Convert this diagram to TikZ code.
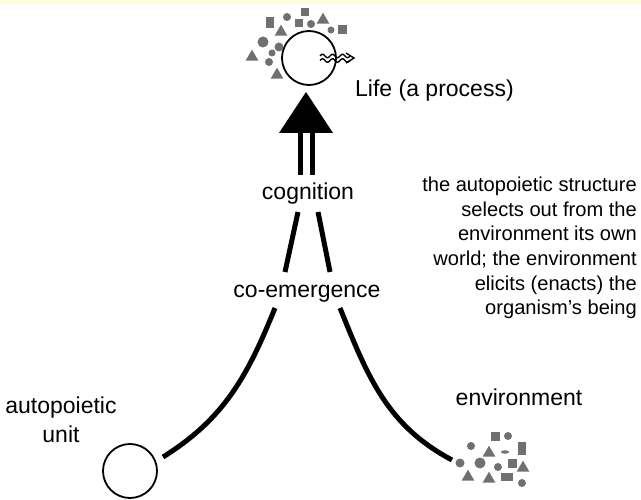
\documentclass[tikz,border=0pt]{standalone}
\usepackage{fontspec}
\setmainfont{Liberation Sans}
\usetikzlibrary{shapes.geometric}
\definecolor{shapegray}{RGB}{112,112,112}
\definecolor{edgeyellow}{RGB}{255,253,215}
\begin{document}
\begin{tikzpicture}[x=1pt,y=1pt,
  lbl/.style={inner sep=0pt,font=\fontsize{23}{27}\selectfont},
  para/.style={inner sep=0pt,align=right,font=\fontsize{20.1}{24.6}\selectfont},
  ring/.style={circle,draw,line width=1.8pt,minimum size=54pt,inner sep=0pt},
  thick line/.style={line width=5pt},
  sq/.style={fill=shapegray,minimum size=#1,inner sep=0pt},
  dot/.style={circle,fill=shapegray,minimum size=#1,inner sep=0pt},
  tri/.style={isosceles triangle,isosceles triangle apex angle=60,shape border rotate=90,fill=shapegray,minimum size=#1,inner sep=0pt}]
\useasboundingbox (0,0) rectangle (641,499);
\fill[white] (0,0) rectangle (641,499);
\fill[edgeyellow] (0,495) rectangle (641,499);
% Life
\node[ring] (life) at (309,441) {};
\node[lbl,anchor=base west] (lifetxt) at (355,402) {Life (a process)};
% squiggle arrow inside
\draw[line width=1.4pt,domain=0:30,samples=40] plot ({320+\x},{443+1.7*sin(\x*36)});
\draw[line width=1.4pt,domain=0:30,samples=40] plot ({320+\x},{438.5+1.7*sin(\x*36)});
\draw[line width=1.4pt] (346,446) -- (354,441) -- (346,436);
% cluster around life
\node[sq=8.5pt] (l1) at (305,487) {};
\node[dot=8pt] (l2) at (287,482) {};
\node[sq=8.5pt,minimum height=11pt] (l3) at (270,476) {};
\node[tri=11pt] (l4) at (281,467) {};
\node[sq=8.5pt] (l5) at (299,476) {};
\node[dot=8pt] (l6) at (311,475) {};
\node[tri=11pt] (l7) at (323,479) {};
\node[dot=7pt] (l8) at (331,469) {};
\node[sq=9pt] (l9) at (342,469) {};
\node[dot=11pt] (l10) at (263,457) {};
\node[dot=9pt] (l11) at (279,452) {};
\node[tri=11pt] (l12) at (252,442) {};
\node[dot=7pt] (l13) at (272,446) {};
\node[dot=8pt] (l14) at (269,437) {};
\node[tri=11pt] (l15) at (277,424) {};
% big arrow
\coordinate (apex) at (306,407);
\fill (279,366) -- (apex) -- (333,366) -- cycle;
\node[lbl,anchor=base] (cog) at (308,299) {cognition};
\draw[thick line] (300,367) -- (300,324);
\draw[thick line] (312,367) -- (312,324);
\node[lbl,anchor=base] (coem) at (307,201) {co-emergence};
\draw[thick line] (298,287) -- (285,227);
\draw[thick line] (318,287) -- (330,227);
% lower curves
\node[ring] (unit) at (130,28) {};
\node[lbl,align=center,anchor=base,font=\fontsize{23}{28}\selectfont] (unittxt) at (61,57) {autopoietic\\unit};
\coordinate (lstart) at (163,42);
\coordinate (ltop) at (275,191);
\coordinate (rtop) at (340,191);
\coordinate (rend) at (452,39);
\draw[thick line] (lstart) to[out=32,in=-112] (ltop);
\draw[thick line] (rend) to[out=152,in=-68] (rtop);
\node[lbl,anchor=base] (envtxt) at (519,94) {environment};
% environment cluster
\node[sq=9pt] (e1) at (495,63) {};
\node[dot=8pt] (e2) at (508,63) {};
\node[dot=8pt] (e3) at (471,53) {};
\node[tri=11pt] (e4) at (489,46) {};
\node[ellipse,fill=shapegray,minimum width=8pt,minimum height=3.5pt,inner sep=0pt] (e5) at (505,47) {};
\node[sq=8pt,minimum height=13pt] (e6) at (522,51) {};
\node[dot=9pt] (e7) at (460,36) {};
\node[dot=11pt] (e8) at (480,36) {};
\node[dot=8pt] (e9) at (498,32) {};
\node[sq=9pt] (e10) at (512,36) {};
\node[tri=11pt] (e11) at (523,31) {};
\node[tri=11pt] (e12) at (468,22) {};
\node[tri=11pt] (e13) at (489,20) {};
\node[sq=8pt,minimum width=12pt] (e14) at (507,22) {};
\node[dot=8pt] (e15) at (522,16) {};
% paragraph
\node[para,anchor=north east] (para) at (637,322) {the autopoietic structure\\selects out from the\\environment its own\\world; the environment\\elicits (enacts) the\\organism's being};
\end{tikzpicture}
\end{document}
